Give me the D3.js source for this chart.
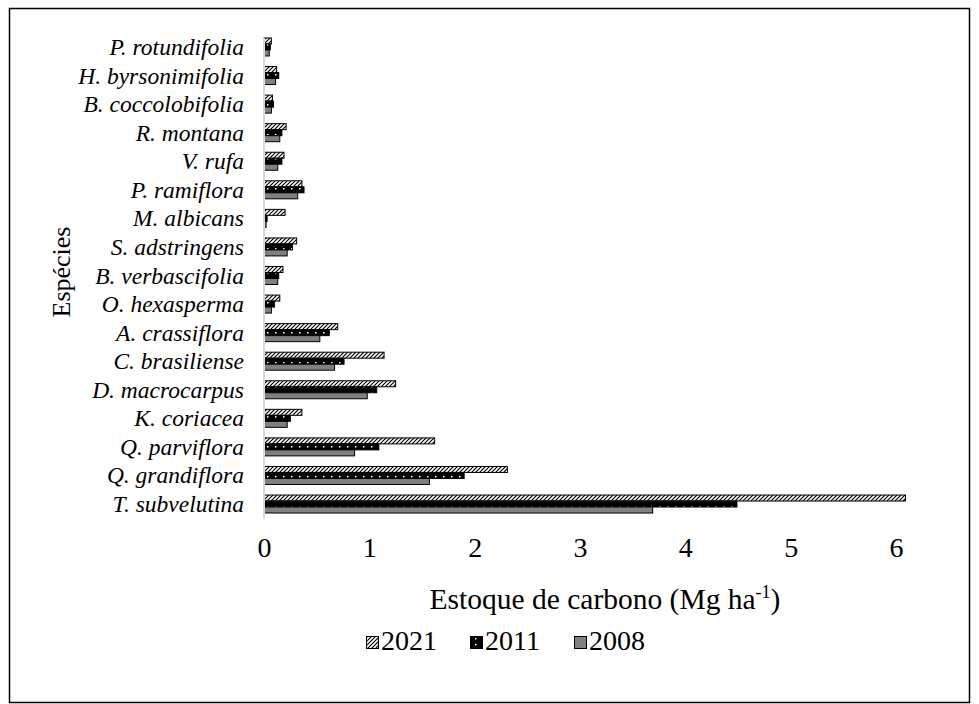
<!DOCTYPE html>
<html><head><meta charset="utf-8">
<script src="https://cdn.jsdelivr.net/npm/d3@7"></script>
<style>body{margin:0;background:#fff}svg{display:block}text{font-family:"Liberation Serif","Times New Roman",Times,serif}</style>
</head><body>
<script>
const species = ["P. rotundifolia","H. byrsonimifolia","B. coccolobifolia","R. montana","V. rufa","P. ramiflora","M. albicans","S. adstringens","B. verbascifolia","O. hexasperma","A. crassiflora","C. brasiliense","D. macrocarpus","K. coriacea","Q. parviflora","Q. grandiflora","T. subvelutina"];
const years = ["2021","2011","2008"];
const v2021 = [0.07,0.12,0.08,0.21,0.19,0.36,0.20,0.31,0.18,0.15,0.70,1.14,1.25,0.36,1.62,2.31,6.09];
const v2011 = [0.06,0.14,0.09,0.17,0.17,0.38,0.03,0.27,0.14,0.10,0.62,0.76,1.07,0.25,1.09,1.90,4.49];
const v2008 = [0.05,0.11,0.07,0.15,0.13,0.32,0.02,0.22,0.13,0.07,0.53,0.67,0.98,0.22,0.86,1.57,3.69];
const xTicks = [0,1,2,3,4,5,6];
const series = {"2021":v2021,"2011":v2011,"2008":v2008};

const W=979,H=704;
const svg=d3.select("body").append("svg").attr("width",W).attr("height",H);
const defs=svg.append("defs");
const p1=defs.append("pattern").attr("id","hatch").attr("patternUnits","userSpaceOnUse").attr("width",4).attr("height",4);
p1.append("rect").attr("width",4).attr("height",4).attr("fill","#fff");
p1.append("path").attr("d","M0,4 L4,0 M-1,1 L1,-1 M3,5 L5,3").attr("stroke","#000").attr("stroke-width",1.2);
const p2=defs.append("pattern").attr("id","dots").attr("patternUnits","userSpaceOnUse").attr("width",8).attr("height",6);
p2.append("rect").attr("width",8).attr("height",6).attr("fill","#000");
p2.append("rect").attr("x",3).attr("y",2).attr("width",1.5).attr("height",1.5).attr("fill","#fff");
const fills={"2021":"url(#hatch)","2011":"url(#dots)","2008":"#808080"};

svg.append("rect").attr("x",9.5).attr("y",8.5).attr("width",960).attr("height",694).attr("fill","none").attr("stroke","#000").attr("stroke-width",1.5);

const x=d3.scaleLinear().domain([0,6]).range([264,896]);
const y=d3.scaleBand().domain(species).range([32.7,518.3]).paddingInner(0.37).paddingOuter(0.185);
const yi=d3.scaleBand().domain(years).range([0,y.bandwidth()]);

const g=svg.append("g");
species.forEach((s,i)=>{
  years.forEach(yr=>{
    g.append("rect").attr("x",x(0)).attr("y",y(s)+yi(yr)).attr("width",x(series[yr][i])-x(0)).attr("height",yi.bandwidth())
     .attr("fill",fills[yr]).attr("stroke","#000").attr("stroke-width",1);
  });
});

svg.append("line").attr("x1",x(0)).attr("x2",x(0)).attr("y1",38).attr("y2",519).attr("stroke","#d9d9d9").attr("stroke-width",2);

const yAxis=d3.axisLeft(y).tickSize(0).tickPadding(20);
const ya=svg.append("g").attr("transform",`translate(${x(0)},0)`).call(yAxis);
ya.attr("font-family",null);
ya.select(".domain").remove();
ya.selectAll("text").attr("font-style","italic").attr("font-size",23.5).attr("fill","#000").attr("dy","0.34em");

const xAxis=d3.axisBottom(x).tickValues(xTicks).tickSize(0).tickPadding(0).tickFormat(d3.format("d"));
const xa=svg.append("g").attr("transform","translate(0,537)").call(xAxis);
xa.attr("font-family",null);
xa.select(".domain").remove();
xa.selectAll("text").attr("font-size",28).attr("fill","#000");

const t=svg.append("text").attr("x",605).attr("y",609).attr("text-anchor","middle").attr("font-size",29.5).attr("fill","#000");
t.append("tspan").text("Estoque de carbono (Mg ha");
t.append("tspan").attr("dy",-11).attr("font-size",18).text("-1");
t.append("tspan").attr("dy",11).text(")");

svg.append("text").attr("transform","translate(70,272) rotate(-90)").attr("text-anchor","middle").attr("font-size",26).attr("fill","#000").text("Espécies");

const legX=[366,470,574];
years.forEach((yr,i)=>{
  svg.append("rect").attr("x",legX[i]+0.5).attr("y",636.5).attr("width",12).attr("height",12).attr("fill",fills[yr]).attr("stroke","#000").attr("stroke-width",1);
  svg.append("text").attr("x",legX[i]+15).attr("y",650).attr("font-size",28).attr("fill","#000").text(yr);
});
</script>
</body></html>
